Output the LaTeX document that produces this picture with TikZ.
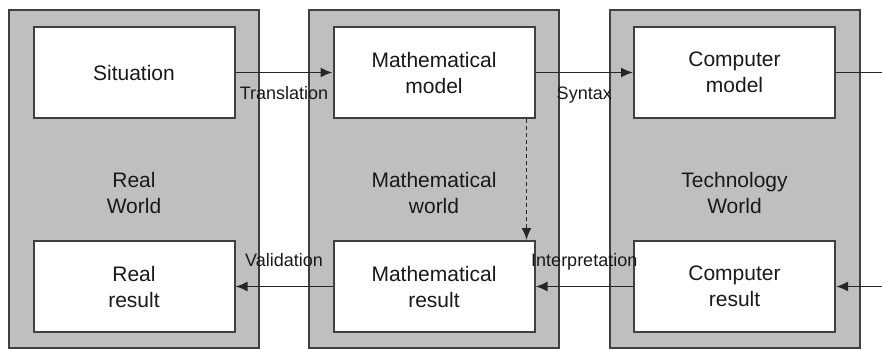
\documentclass[tikz,border=0pt]{standalone}
\usepackage{fontspec}
\setmainfont{Liberation Sans}
\usetikzlibrary{arrows.meta,positioning}

\begin{document}
\begin{tikzpicture}[
    x=1pt, y=-1pt,
    world/.style={draw=black!75, line width=2pt, fill=black!25, minimum width=250pt, minimum height=338pt, inner sep=0pt},
    stage/.style={draw=black!75, line width=2pt, fill=white, minimum width=201pt, minimum height=91pt, inner sep=0pt, align=center, text=black!90, font=\fontsize{21}{26}\selectfont},
    worldname/.style={align=center, text=black!90, font=\fontsize{21}{26}\selectfont},
    link/.style={draw=black!85, line width=1.8pt},
    flow/.style={link, -{Latex[length=12pt,width=10pt]}},
    tag/.style={inner sep=0pt, text height=13pt, text depth=4pt, text=black!90, font=\fontsize{18}{20}\selectfont}
]
\useasboundingbox (0,0) rectangle (882,350);

% the three worlds
\node[world] (real) at (134,179) {};
\node[world] (math) at (434,179) {};
\node[world] (tech) at (734.5,179) {};
\node[worldname] (realname) at (134,193) {Real\\World};
\node[worldname] (mathname) at (434,193) {Mathematical\\world};
\node[worldname] (techname) at (734.5,193) {Technology\\World};

% model and result boxes
\node[stage, below=17pt of real.north] (sit) {Situation};
\node[stage, below=17pt of math.north] (mmodel) {Mathematical\\model};
\node[stage, below=17pt of tech.north] (cmodel) {Computer\\model};
\node[stage, above=16pt of real.south] (rres) {Real\\result};
\node[stage, above=16pt of math.south] (mres) {Mathematical\\result};
\node[stage, above=16pt of tech.south] (cres) {Computer\\result};

% open ends at the right margin
\path (882,0) coordinate (edge);
\coordinate (outr) at (cmodel.east -| edge);
\coordinate (inr) at (cres.east -| edge);

% connectors
\draw[flow] (sit) -- node[tag, below=13pt] (trans) {Translation} (mmodel);
\draw[flow] (mmodel) -- node[tag, below=13pt] (syn) {Syntax} (cmodel);
\draw[link] (cmodel) -- (outr);
\draw[flow] (inr) -- (cres);
\draw[flow] (cres) -- node[tag, above=15pt] (interp) {Interpretation} (mres);
\draw[flow] (mres) -- node[tag, above=15pt] (valid) {Validation} (rres);
\draw[flow, dash pattern=on 4pt off 3pt] ([xshift=-9pt]mmodel.south east) -- ([xshift=-9pt]mres.north east);
\end{tikzpicture}
\end{document}
